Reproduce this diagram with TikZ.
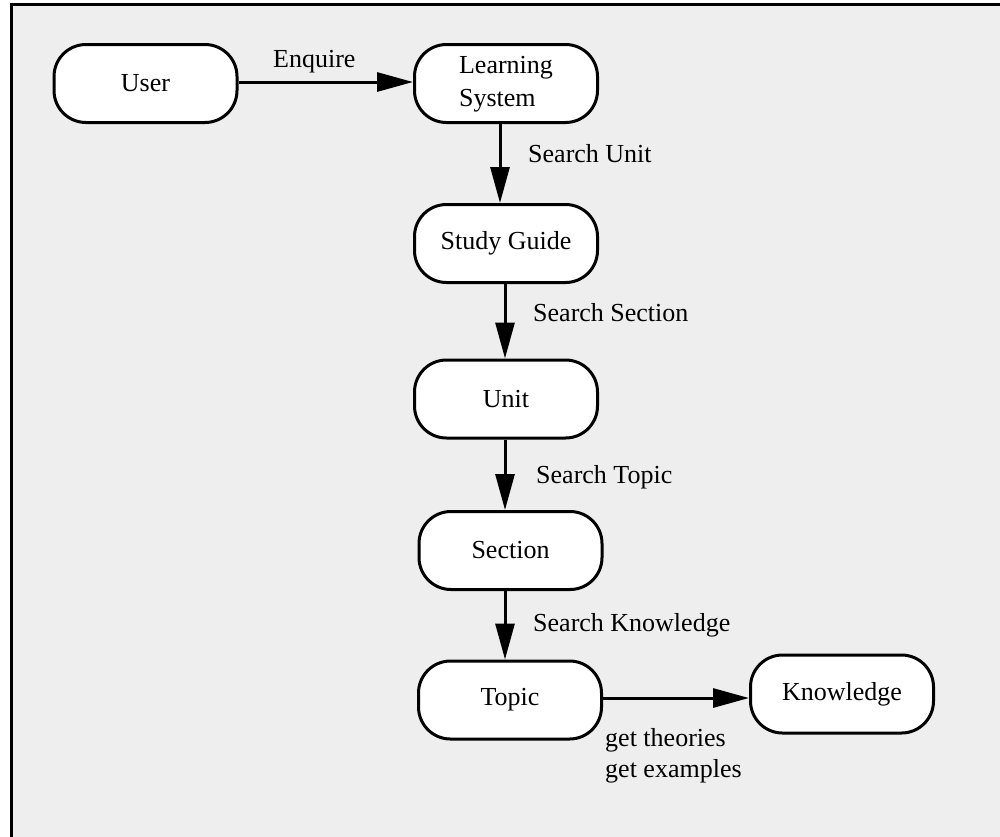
\documentclass[tikz,border=0pt]{standalone}
\usepackage{fontspec}
\setmainfont{Liberation Serif}
\usetikzlibrary{arrows.meta}
\definecolor{bggrey}{HTML}{EEEEEE}
\tikzset{
  box/.style={draw=black, fill=white, line width=3pt, rounded corners=32pt,
    minimum width=183pt, minimum height=78pt, inner sep=0pt,
    font=\fontsize{26}{33}\selectfont, align=left},
  conn/.style={line width=3pt, -{Triangle[length=36pt,width=19pt]}},
  lbl/.style={font=\fontsize{26}{31}\selectfont, inner sep=0pt, align=left}
}
\begin{document}
\begin{tikzpicture}[x=1pt,y=-1pt]
\useasboundingbox (0,0) rectangle (1000,836);
\fill[bggrey] (11,4) rectangle (1002,838);
\draw[line width=3pt] (11,840) -- (11,4) -- (1004,4);

\node[box] (user) at (145.5,83.5) {User};
\node[box] (ls) at (506,83.5) {\raisebox{-8pt}{\begin{tabular}{@{}l@{}}Learning\\System\end{tabular}}};
\node[box] (sg) at (506,243.5) {Study Guide};
\node[box] (unit) at (506,399) {Unit};
\node[box] (sec) at (510.5,550.5) {Section};
\node[box] (top) at (510,700) {Topic};
\node[box] (kn) at (842,694) {Knowledge};

\draw[conn] (user.east |- 0,82) -- (ls.west |- 0,82);
\draw[conn] (ls.south -| 500,0) -- (sg.north -| 500,0);
\draw[conn] (sg.south -| 505,0) -- (unit.north -| 505,0);
\draw[conn] (unit.south -| 505,0) -- (sec.north -| 505,0);
\draw[conn] (sec.south -| 505,0) -- (top.north -| 505,0);
\draw[conn] (top.east |- 0,698) -- (kn.west |- 0,698);

\node[lbl, anchor=base west] (l1) at (273,67) {Enquire};
\node[lbl, anchor=base west] (l2) at (528,162) {Search Unit};
\node[lbl, anchor=base west] (l3) at (533,321) {Search Section};
\node[lbl, anchor=base west] (l4) at (536,483) {Search Topic};
\node[lbl, anchor=base west] (l5) at (533,631) {Search Knowledge};
\node[lbl, anchor=base west] (l6) at (605,777) {get theories\\get examples};
\end{tikzpicture}
\end{document}
